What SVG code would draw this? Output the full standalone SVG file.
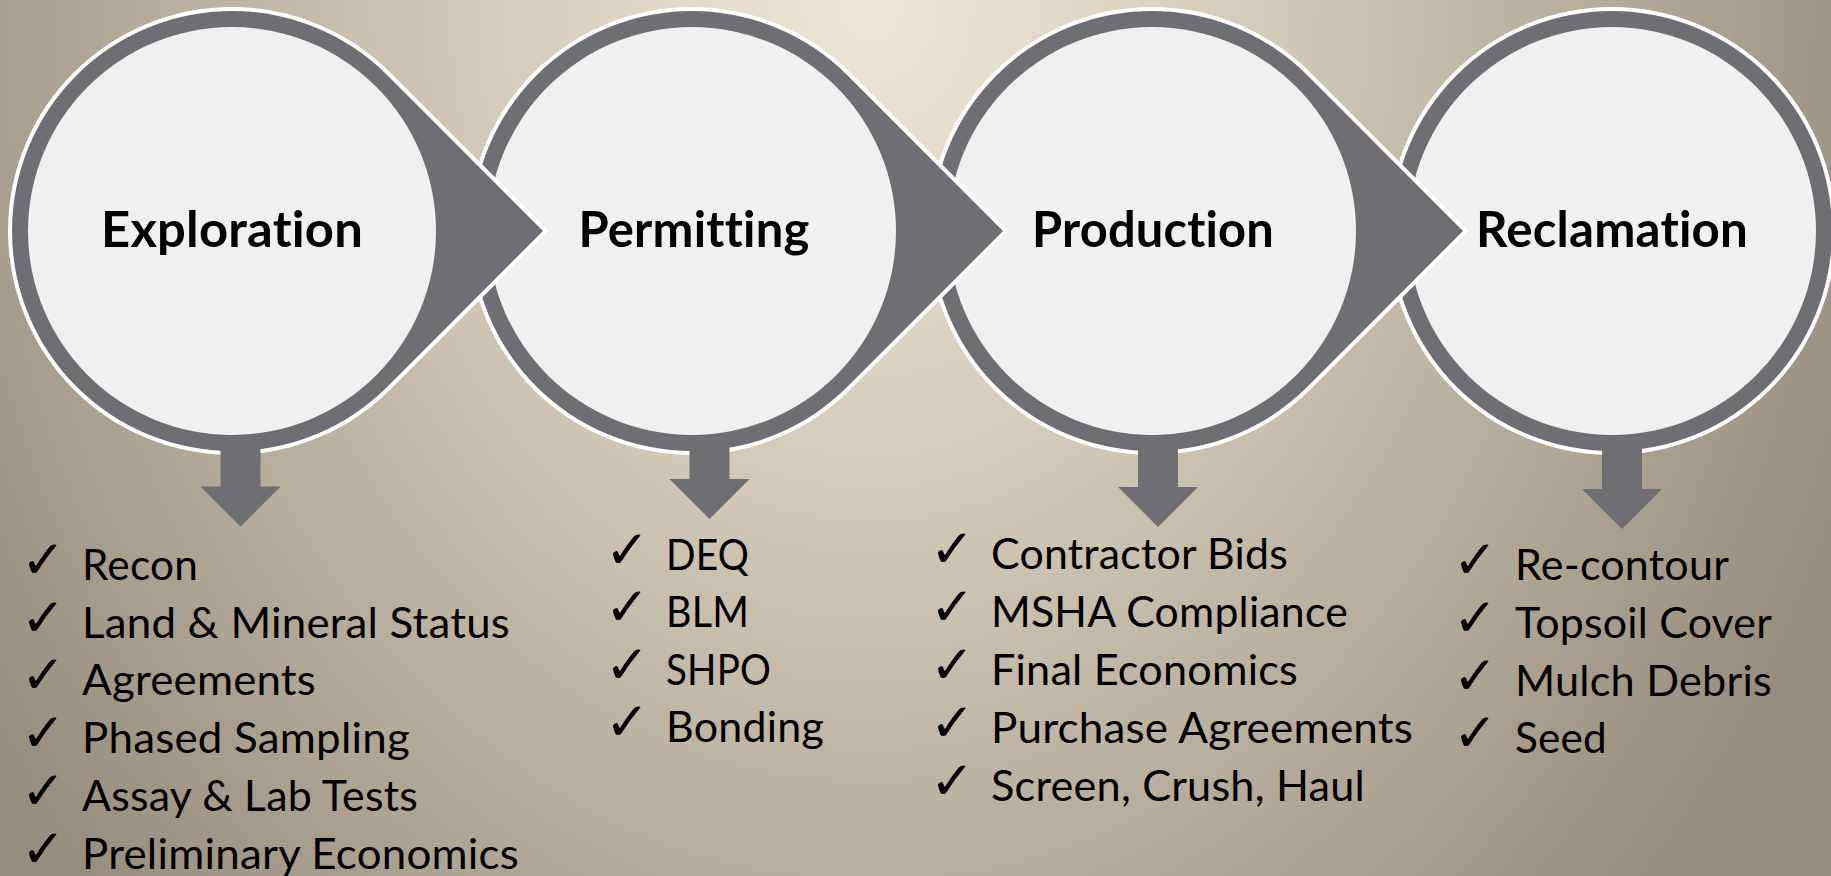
<svg xmlns="http://www.w3.org/2000/svg" width="1831" height="876" viewBox="0 0 1831 876">
  <defs>
    <radialGradient id="bg" gradientUnits="userSpaceOnUse" cx="870" cy="0" r="1050" gradientTransform="translate(870 0) scale(1 1.24) translate(-870 0)">
      <stop offset="0" stop-color="#efe7d6"/>
      <stop offset="0.35" stop-color="#d6ccba"/>
      <stop offset="0.7" stop-color="#b5ab99"/>
      <stop offset="1" stop-color="#988e7d"/>
    </radialGradient>
  </defs>
  <style>
    .ring { fill: #6f6e73; stroke: #ffffff; stroke-width: 8; paint-order: stroke; stroke-linejoin: miter; }
    .inner { fill: #f0f0f0; }
    .title { font-family: Lato, "Open Sans", "Liberation Sans", sans-serif; font-weight: bold; font-size: 50px; fill: #000000; text-anchor: middle; font-variant-ligatures: none; font-feature-settings: "liga" 0, "clig" 0, "dlig" 0; letter-spacing: 0.2px; }
    .item { font-family: Lato, "Open Sans", "Liberation Sans", sans-serif; font-size: 42px; fill: #000000; font-variant-ligatures: none; font-feature-settings: "liga" 0, "clig" 0; letter-spacing: 0.2px; }
    .chk { font-family: "DejaVu Sans", sans-serif; font-size: 53px; font-weight: bold; fill: #000000; }
    .down { fill: #6f6e73; }
  </style>
  <rect x="0" y="0" width="1831" height="876" fill="url(#bg)"/>

  <g id="node-reclamation">
    <circle class="ring" cx="1612" cy="231" r="220"/>
    <circle class="inner" cx="1612" cy="231" r="204"/>
    <text class="title" x="1612" y="247" textLength="272" lengthAdjust="spacingAndGlyphs">Reclamation</text>
  </g>
  <g id="node-production">
    <path class="ring" d="M 1463 231 L 1307.56 75.44 A 220 220 0 1 0 1307.56 386.56 Z"/>
    <circle class="inner" cx="1152" cy="231" r="204"/>
    <text class="title" x="1153" y="247" textLength="242" lengthAdjust="spacingAndGlyphs">Production</text>
  </g>
  <g id="node-permitting">
    <path class="ring" d="M 1003 231 L 847.56 75.44 A 220 220 0 1 0 847.56 386.56 Z"/>
    <circle class="inner" cx="692" cy="231" r="204"/>
    <text class="title" x="694" y="247" textLength="231" lengthAdjust="spacingAndGlyphs">Permitting</text>
  </g>
  <g id="node-exploration">
    <path class="ring" d="M 543 231 L 387.56 75.44 A 220 220 0 1 0 387.56 386.56 Z"/>
    <circle class="inner" cx="232" cy="231" r="204"/>
    <text class="title" x="232" y="247" textLength="262" lengthAdjust="spacingAndGlyphs">Exploration</text>
  </g>

  <g id="connectors">
    <polygon class="down" points="220.5,438 260.5,438 260.5,486.5 280.5,486.5 240.5,526.5 200.5,486.5 220.5,486.5"/>
    <polygon class="down" points="689.5,438 729.5,438 729.5,479 749.5,479 709.5,519 669.5,479 689.5,479"/>
    <polygon class="down" points="1138,438 1178,438 1178,487 1198,487 1158,527 1118,487 1138,487"/>
    <polygon class="down" points="1602,438 1642,438 1642,489 1662,489 1622,529 1582,489 1602,489"/>
  </g>

  <g id="list-exploration">
    <text class="chk" x="21" y="578">✓</text>
    <text class="item" x="82" y="580" textLength="116" lengthAdjust="spacingAndGlyphs">Recon</text>
    <text class="chk" x="21" y="635.7">✓</text>
    <text class="item" x="82" y="637.7" textLength="428" lengthAdjust="spacingAndGlyphs">Land &amp; Mineral Status</text>
    <text class="chk" x="21" y="693.4">✓</text>
    <text class="item" x="82" y="695.4" textLength="234" lengthAdjust="spacingAndGlyphs">Agreements</text>
    <text class="chk" x="21" y="751.1">✓</text>
    <text class="item" x="82" y="753.1" textLength="328" lengthAdjust="spacingAndGlyphs">Phased Sampling</text>
    <text class="chk" x="21" y="808.8">✓</text>
    <text class="item" x="82" y="810.8" textLength="336" lengthAdjust="spacingAndGlyphs">Assay &amp; Lab Tests</text>
    <text class="chk" x="21" y="866.5">✓</text>
    <text class="item" x="82" y="868.5" textLength="437" lengthAdjust="spacingAndGlyphs">Preliminary Economics</text>
  </g>

  <g id="list-permitting">
    <text class="chk" x="605" y="568">✓</text>
    <text class="item" x="666" y="570" textLength="83" lengthAdjust="spacingAndGlyphs">DEQ</text>
    <text class="chk" x="605" y="625">✓</text>
    <text class="item" x="666" y="627" textLength="83" lengthAdjust="spacingAndGlyphs">BLM</text>
    <text class="chk" x="605" y="682.5">✓</text>
    <text class="item" x="666" y="684.5" textLength="105" lengthAdjust="spacingAndGlyphs">SHPO</text>
    <text class="chk" x="605" y="740">✓</text>
    <text class="item" x="666" y="742" textLength="158" lengthAdjust="spacingAndGlyphs">Bonding</text>
  </g>

  <g id="list-production">
    <text class="chk" x="930" y="567">✓</text>
    <text class="item" x="991" y="569" textLength="297" lengthAdjust="spacingAndGlyphs">Contractor Bids</text>
    <text class="chk" x="930" y="625">✓</text>
    <text class="item" x="991" y="627" textLength="357" lengthAdjust="spacingAndGlyphs">MSHA Compliance</text>
    <text class="chk" x="930" y="683">✓</text>
    <text class="item" x="991" y="685" textLength="307" lengthAdjust="spacingAndGlyphs">Final Economics</text>
    <text class="chk" x="930" y="740.5">✓</text>
    <text class="item" x="991" y="742.5" textLength="422" lengthAdjust="spacingAndGlyphs">Purchase Agreements</text>
    <text class="chk" x="930" y="798.5">✓</text>
    <text class="item" x="991" y="800.5" textLength="374" lengthAdjust="spacingAndGlyphs">Screen, Crush, Haul</text>
  </g>

  <g id="list-reclamation">
    <text class="chk" x="1453" y="578">✓</text>
    <text class="item" x="1515" y="580" textLength="214" lengthAdjust="spacingAndGlyphs">Re-contour</text>
    <text class="chk" x="1453" y="636">✓</text>
    <text class="item" x="1515" y="638" textLength="257" lengthAdjust="spacingAndGlyphs">Topsoil Cover</text>
    <text class="chk" x="1453" y="693.5">✓</text>
    <text class="item" x="1515" y="695.5" textLength="257" lengthAdjust="spacingAndGlyphs">Mulch Debris</text>
    <text class="chk" x="1453" y="751">✓</text>
    <text class="item" x="1515" y="753" textLength="92" lengthAdjust="spacingAndGlyphs">Seed</text>
  </g>
</svg>
